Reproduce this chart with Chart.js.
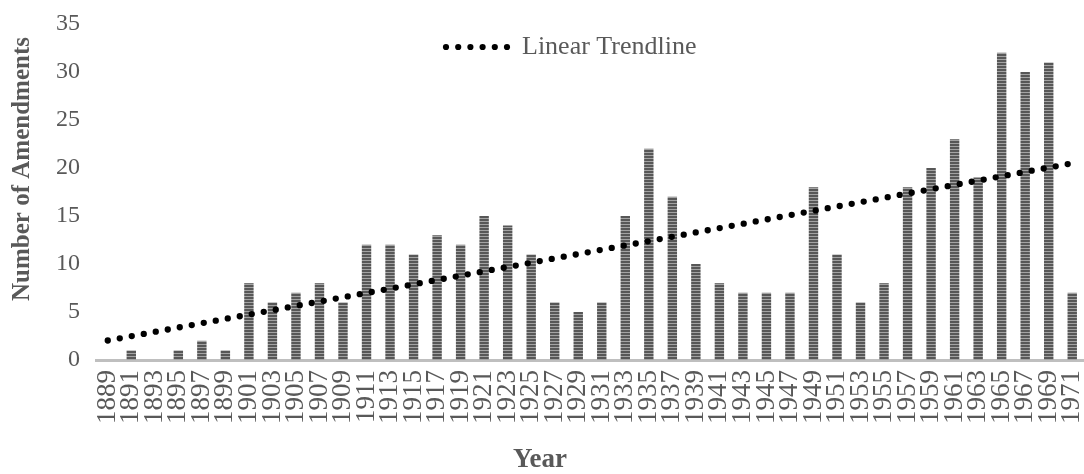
<!DOCTYPE html>
<html>
<head>
<meta charset="utf-8">
<script src="https://cdn.jsdelivr.net/npm/chart.js@4.4.1/dist/chart.umd.min.js"></script>
<style>
  html, body { margin: 0; padding: 0; background: #ffffff; }
  #wrap { width: 1084px; height: 474px; position: relative; }
</style>
</head>
<body>
<div id="wrap"><canvas id="chart" width="1084" height="474"></canvas></div>
<script>
// Legislative sessions (odd years) and amendments adopted in each
const years = [
  '1889','1891','1893','1895','1897','1899','1901','1903','1905','1907',
  '1909','1911','1913','1915','1917','1919','1921','1923','1925','1927',
  '1929','1931','1933','1935','1937','1939','1941','1943','1945','1947',
  '1949','1951','1953','1955','1957','1959','1961','1963','1965','1967',
  '1969','1971'
];
const amendments = [
  0, 1, 0, 1, 2, 1, 8, 6, 7, 8,
  6, 12, 12, 11, 13, 12, 15, 14, 11, 6,
  5, 6, 15, 22, 17, 10, 8, 7, 7, 7,
  18, 11, 6, 8, 18, 20, 23, 19, 32, 30,
  31, 7
];
const yTicks = [0, 5, 10, 15, 20, 25, 30, 35];
const trendLabel = 'Linear Trendline';
const xTitle = 'Year';
const yTitle = 'Number of Amendments';

// Least-squares fit of amendments against session index
function linearFit(values) {
  const n = values.length;
  let sx = 0, sy = 0, sxy = 0, sxx = 0;
  values.forEach((v, i) => { sx += i; sy += v; sxy += i * v; sxx += i * i; });
  const slope = (n * sxy - sx * sy) / (n * sxx - sx * sx);
  const intercept = (sy - slope * sx) / n;
  return values.map((_, i) => intercept + slope * i);
}
const trend = linearFit(amendments);

// Horizontal striped fill for the bars
function stripePattern() {
  const c = document.createElement('canvas');
  c.width = 4; c.height = 3;
  const g = c.getContext('2d');
  g.fillStyle = '#575757'; g.fillRect(0, 0, 4, 3);
  g.fillStyle = '#a3a3a3'; g.fillRect(0, 2, 4, 1);
  return g.createPattern(c, 'repeat');
}

const SERIF = "'Liberation Serif', 'Times New Roman', serif";
const TEXT = '#595959';

// Legend sample, legend text and the two axis titles
const annotations = {
  id: 'annotations',
  afterDraw(chart) {
    const ctx = chart.ctx;
    ctx.save();
    // legend: dotted sample + label
    const ly = 47, lx = 446;
    ctx.fillStyle = '#000000';
    for (let k = 0; k < 6; k++) {
      ctx.beginPath();
      ctx.arc(lx + k * 12.2, ly, 3.1, 0, Math.PI * 2);
      ctx.fill();
    }
    ctx.fillStyle = TEXT;
    ctx.font = '26px ' + SERIF;
    ctx.textBaseline = 'middle';
    ctx.textAlign = 'left';
    ctx.fillText(trendLabel, 522, ly);

    // axis titles
    ctx.font = 'bold 27px ' + SERIF;
    ctx.textAlign = 'center';
    ctx.fillText(xTitle, 540, 460);
    ctx.translate(23, 169);
    ctx.rotate(-Math.PI / 2);
    ctx.font = 'bold 25px ' + SERIF;
    ctx.fillText(yTitle, 0, 0);
    ctx.restore();
  }
};

new Chart(document.getElementById('chart'), {
  type: 'bar',
  data: {
    labels: years,
    datasets: [
      {
        type: 'line',
        label: trendLabel,
        data: trend,
        borderColor: '#000000',
        borderWidth: 6.3,
        borderDash: [0, 12.2],
        borderCapStyle: 'round',
        pointRadius: 0,
        fill: false,
        tension: 0,
        order: 0
      },
      {
        label: 'Amendments',
        data: amendments,
        backgroundColor: stripePattern(),
        borderWidth: 0,
        barPercentage: 0.4,
        categoryPercentage: 1.0,
        order: 1
      }
    ]
  },
  options: {
    responsive: false,
    animation: false,
    devicePixelRatio: 1,
    layout: { padding: { top: 24, right: 0, bottom: 48, left: 48 } },
    plugins: {
      legend: { display: false },
      tooltip: { enabled: false }
    },
    scales: {
      x: {
        offset: true,
        grid: { display: false },
        border: { display: true, color: '#bfbfbf', width: 3 },
        ticks: {
          color: TEXT,
          font: { family: SERIF, size: 27 },
          minRotation: 90,
          maxRotation: 90,
          autoSkip: false,
          padding: 2
        },
        afterFit(scale) { scale.paddingRight = 0; scale.paddingLeft = 0; }
      },
      y: {
        min: 0,
        max: 35,
        afterBuildTicks(scale) { scale.ticks = yTicks.map(v => ({ value: v })); },
        grid: { display: false },
        border: { display: false },
        ticks: {
          color: TEXT,
          font: { family: SERIF, size: 24 },
          padding: 8
        }
      }
    }
  },
  plugins: [annotations]
});
</script>
</body>
</html>
